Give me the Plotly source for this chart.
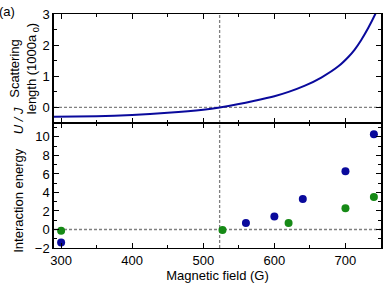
import plotly.graph_objects as go
from plotly.subplots import make_subplots

# Scattering length curve, units of 1000 a0
curve_field = [290, 350, 400, 450, 500, 523, 550, 569, 600, 620, 643, 666, 690, 704, 713, 722, 732, 742, 748]
curve_scat = [-0.30, -0.28, -0.24, -0.17, -0.07, 0.0, 0.11, 0.20, 0.36, 0.50, 0.70, 0.96, 1.32, 1.62, 1.86, 2.16, 2.55, 3.0, 3.3]

# Interaction energy U/J
blue_field = [300, 560, 600, 640, 700, 740]
blue_u = [-1.4, 0.7, 1.4, 3.3, 6.3, 10.3]
green_field = [300, 527, 620, 700, 740]
green_u = [-0.15, -0.05, 0.7, 2.3, 3.5]

zero_crossing = 523

BLUE = "#0a0a9c"
GREEN = "#168a16"
FONT = "Liberation Sans, Arial, sans-serif"

fig = make_subplots(rows=2, cols=1, shared_xaxes=True, vertical_spacing=0,
                    row_heights=[0.466, 0.534])

fig.add_trace(go.Scatter(x=curve_field, y=curve_scat, mode="lines",
                         line=dict(color=BLUE, width=2, shape="spline", smoothing=0.6),
                         showlegend=False), row=1, col=1)
fig.add_trace(go.Scatter(x=blue_field, y=blue_u, mode="markers",
                         marker=dict(color=BLUE, size=8),
                         showlegend=False, cliponaxis=False), row=2, col=1)
fig.add_trace(go.Scatter(x=green_field, y=green_u, mode="markers",
                         marker=dict(color=GREEN, size=8),
                         showlegend=False, cliponaxis=False), row=2, col=1)

dash = dict(color="#808080", width=1.3, dash="3px,2px")
# horizontal zero lines
fig.add_shape(type="line", xref="x domain", yref="y", x0=0, x1=1, y0=0, y1=0, line=dash, layer="below")
fig.add_shape(type="line", xref="x2 domain", yref="y2", x0=0, x1=1, y0=0, y1=0, line=dash, layer="below")
# vertical line at zero crossing
fig.add_shape(type="line", xref="x", yref="paper", x0=zero_crossing, x1=zero_crossing,
              y0=0, y1=1, line=dash, layer="below")

xcommon = dict(range=[290, 750], showline=True, linecolor="black", linewidth=1,
               mirror="ticks", ticks="inside", ticklen=5, tickwidth=1.2, tickcolor="black",
               dtick=100, tick0=300, showgrid=False, zeroline=False,
               minor=dict(ticks="inside", ticklen=3, dtick=50, tick0=300, tickcolor="black", tickwidth=1))
fig.update_xaxes(**xcommon)
fig.update_xaxes(row=2, col=1, title=dict(text="Magnetic field (G)", standoff=2,
                                          font=dict(size=13, family=FONT)),
                 tickfont=dict(size=13, family=FONT))
fig.update_xaxes(row=1, col=1, showticklabels=False)

ycommon = dict(showline=True, linecolor="black", linewidth=1.5, mirror="ticks",
               ticks="inside", ticklen=5, tickwidth=1.2, tickcolor="black",
               showgrid=False, zeroline=False, tickfont=dict(size=13, family=FONT))
fig.update_yaxes(**ycommon)
fig.update_yaxes(row=1, col=1, range=[-0.5, 3], dtick=1, tick0=0,
                 minor=dict(ticks="inside", ticklen=3, dtick=0.5, tick0=0, tickcolor="black"),
                 title=dict(text="Scattering<br>length (1000a<sub> 0</sub>)", standoff=3,
                            font=dict(size=13, family=FONT)))
fig.update_yaxes(row=2, col=1, range=[-2, 11.5], dtick=2, tick0=0,
                 minor=dict(ticks="inside", ticklen=3, dtick=1, tick0=0, tickcolor="black"))

fig.add_annotation(text="Interaction energy" + "&nbsp;" * 4 + "<i>U / J</i>",
                   xref="paper", yref="paper",
                   x=-0.109, y=0.293, textangle=-90, xanchor="center", yanchor="middle",
                   showarrow=False, font=dict(size=13, family=FONT, color="black"))

fig.add_annotation(text="(a)", xref="paper", yref="paper", x=-0.143, y=1.0125,
                   xanchor="center", yanchor="middle", showarrow=False,
                   font=dict(size=13, family=FONT, color="black"))

fig.update_layout(width=390, height=286, margin=dict(l=54, r=7, t=9, b=38),
                  plot_bgcolor="white", paper_bgcolor="white",
                  font=dict(family=FONT, color="black", size=13))

fig.write_html("out.html", config={"displayModeBar": False},
               post_script="document.body.style.margin='0';")
